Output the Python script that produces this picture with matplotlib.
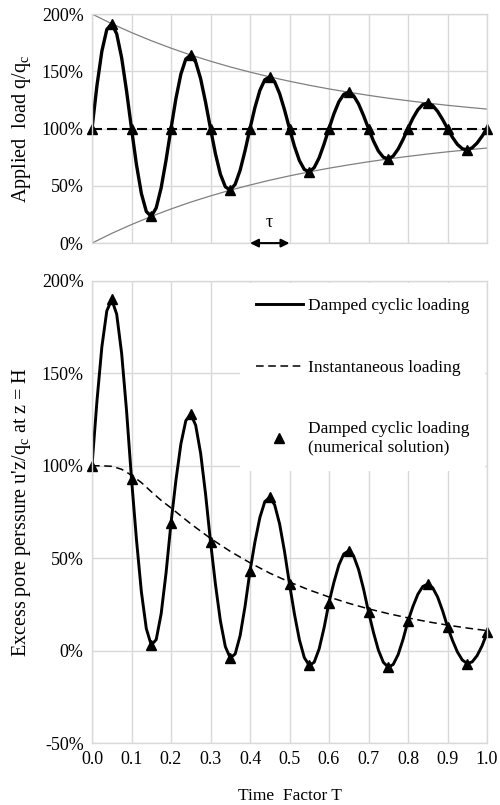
import numpy as np
import matplotlib
matplotlib.use('Agg')
import matplotlib.pyplot as plt
from matplotlib.ticker import PercentFormatter, FormatStrFormatter, MultipleLocator

plt.rcParams['font.family'] = ['Liberation Serif', 'DejaVu Serif']
plt.rcParams['axes.unicode_minus'] = False

# time axis for the smooth curves (step 0.0125)
t_fine = np.arange(81) * 0.0125
# time of the triangle markers (step 0.05)
t_marks = np.arange(21) * 0.05

# top panel: applied load q/qc (%)
load_curve = [100, 137.4, 167.6, 186.5, 191.5, 182.7, 161.9, 132.8,
              100, 68.6, 43.3, 27.6, 23.3, 30.7, 48.1, 72.5,
              100, 126.3, 147.5, 160.7, 164.2, 158.1, 143.5, 123.0,
              100, 78.0, 60.2, 49.2, 46.2, 51.4, 63.6, 80.7,
              100, 118.4, 133.3, 142.6, 145.1, 140.8, 130.5, 116.2,
              100, 84.6, 72.1, 64.3, 62.2, 65.9, 74.4, 86.5,
              100, 112.9, 123.4, 129.9, 131.7, 128.6, 121.4, 111.3,
              100, 89.2, 80.4, 75.0, 73.5, 76.0, 82.1, 90.5,
              100, 109.1, 116.4, 121.0, 122.2, 120.1, 115.0, 108.0,
              100, 92.4, 86.2, 82.4, 81.4, 83.2, 87.4, 93.3, 100]
load_marks = [100, 191.5, 100, 23.3, 100, 164.2, 100, 46.2, 100, 145.1, 100,
              62.2, 100, 131.7, 100, 73.5, 100, 122.2, 100, 81.4, 100]
env_upper = [200, 191.5, 183.8, 176.7, 170.2, 164.2, 158.8, 153.8, 149.3, 145.1,
             141.3, 137.8, 134.6, 131.7, 129.0, 126.5, 124.3, 122.2, 120.3, 118.6, 117.0]
env_lower = [0, 8.5, 16.2, 23.3, 29.8, 35.8, 41.2, 46.2, 50.7, 54.9,
             58.7, 62.2, 65.4, 68.3, 71.0, 73.5, 75.7, 77.8, 79.7, 81.4, 83.0]
load_const = [100] * 21

# bottom panel: excess pore pressure at z = H (%)
pore_curve = [100, 134.9, 164.4, 183.8, 190, 182.0, 160.9, 129.7,
              93, 60.2, 31.8, 11.9, 3, 5.9, 19.8, 42.1,
              69, 92.2, 111.8, 124.4, 128, 121.9, 106.8, 84.7,
              59, 35.9, 16.1, 2.2, -4, -1.8, 8.1, 24.0,
              43, 58.8, 72.0, 80.6, 83, 78.8, 68.5, 53.5,
              36, 19.8, 5.9, -3.8, -8, -6.3, 0.9, 12.3,
              26, 37.0, 46.3, 52.3, 54, 51.1, 43.8, 33.3,
              21, 9.9, 0.3, -6.3, -9, -7.5, -2.2, 6.1,
              16, 23.9, 30.5, 34.7, 36, 34.0, 29.0, 21.6,
              13, 5.6, -0.7, -5.1, -7, -6.1, -2.7, 2.6, 9.5]
pore_marks = [100, 190, 93, 3, 69, 128, 59, -4, 43, 83, 36,
              -8, 26, 54, 21, -9, 16, 36, 13, -7, 10]
inst_t = [0, 0.025, 0.05, 0.075, 0.1, 0.125, 0.15, 0.175, 0.2, 0.25, 0.3, 0.35,
          0.4, 0.45, 0.5, 0.55, 0.6, 0.65, 0.7, 0.75, 0.8, 0.85, 0.9, 0.95, 1.0]
inst_u = [100, 100, 99.7, 98.1, 94.9, 90.9, 86.0, 81.3, 77.2, 68.6, 60.7, 53.7,
          47.5, 41.9, 37.1, 32.8, 29.0, 25.6, 22.6, 20.0, 17.7, 15.6, 13.8, 12.2, 10.8]

xticks = np.arange(11) * 0.1

fig = plt.figure(figsize=(5, 8.05), dpi=100)
ax1 = fig.add_axes([0.184, 0.698, 0.79, 0.2846])
ax2 = fig.add_axes([0.184, 0.077, 0.79, 0.574])

grid_c = '#d9d9d9'
for ax in (ax1, ax2):
    ax.set_xlim(0, 1)
    ax.set_xticks(xticks)
    ax.grid(True, color=grid_c, lw=1.0)
    ax.set_axisbelow(True)
    for s in ax.spines.values():
        s.set_color(grid_c)
        s.set_linewidth(1.0)
    ax.tick_params(length=0, labelsize=13, pad=6)
    ax.yaxis.set_major_formatter(PercentFormatter(decimals=0))
    ax.yaxis.set_major_locator(MultipleLocator(50))

# top panel
ax1.set_ylim(0, 200)
ax1.set_xticklabels([])
ax1.plot(t_marks, env_upper, color='#808080', lw=0.9)
ax1.plot(t_marks, env_lower, color='#808080', lw=0.9)
ax1.plot(t_marks, load_const, color='black', lw=1.5, dashes=(4.8, 2.4))
ax1.plot(t_fine, load_curve, color='black', lw=2.4)
ax1.plot(t_marks, load_marks, '^', color='black', ms=7, clip_on=False)
ax1.set_ylabel('Applied  load q/q$_\\mathregular{c}$', fontsize=14.5, labelpad=6)
ax1.annotate('', xy=(0.5, 0), xytext=(0.4, 0),
             arrowprops=dict(arrowstyle='<|-|>', color='black', lw=1.5,
                             shrinkA=0, shrinkB=0, mutation_scale=12),
             annotation_clip=False)
ax1.text(0.45, 18, '\u03c4', ha='center', va='center', fontsize=13)

# bottom panel
ax2.set_ylim(-50, 200)
ax2.xaxis.set_major_formatter(FormatStrFormatter('%.1f'))
l2, = ax2.plot(inst_t, inst_u, color='black', lw=1.1, dashes=(5, 3))
l1, = ax2.plot(t_fine, pore_curve, color='black', lw=2.1)
l3, = ax2.plot(t_marks, pore_marks, '^', color='black', ms=7, clip_on=False)
ax2.set_ylabel("Excess pore perssure u'z/q$_\\mathregular{c}$ at z = H",
               fontsize=14.5, labelpad=6)
ax2.set_xlabel('Time  Factor T', fontsize=12.5, labelpad=14)

leg = ax2.legend([l1, l2, l3],
                 ['Damped cyclic loading', 'Instantaneous loading',
                  'Damped cyclic loading\n(numerical solution)'],
                 loc='upper right', bbox_to_anchor=(1.0, 1.0),
                 fontsize=12.5, frameon=True, fancybox=False,
                 edgecolor='white', framealpha=1, handlelength=2.7,
                 labelspacing=2.6, borderpad=0.9, borderaxespad=0.1,
                 handletextpad=0.3)
leg.get_frame().set_linewidth(0)

fig.savefig('out.png', dpi=100)
